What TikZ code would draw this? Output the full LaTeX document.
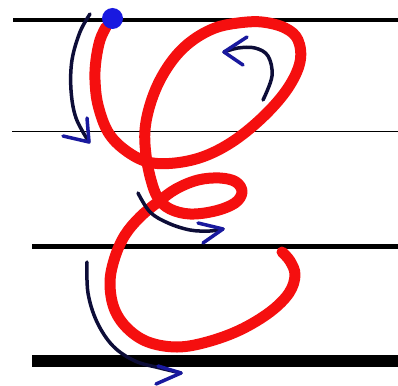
\documentclass[tikz,border=0pt]{standalone}
\begin{document}
\begin{tikzpicture}[x=1pt,y=-1pt]
\definecolor{redink}{rgb}{0.96,0.06,0.06}
\definecolor{navy}{rgb}{0.05,0.05,0.22}
\definecolor{headblue}{rgb}{0.1,0.1,0.62}
\definecolor{dotblue}{rgb}{0.1,0.1,0.88}
\tikzset{
  ruleline/.style={draw=black},
  letter/.style={draw=redink, line width=11pt, line cap=round, line join=round},
  shaft/.style={draw=navy, line width=3.5pt, line cap=round},
  head/.style={draw=headblue, line width=3.5pt, line cap=round, line join=round},
}
\useasboundingbox (0,0) rectangle (398,385);
\fill[white] (0,0) rectangle (398,385);
% ruled lines
\draw[ruleline, line width=4pt] (13,20.3) -- (398,20.3);
\draw[ruleline, line width=1.6pt] (12,131.3) -- (398,131.3);
\draw[ruleline, line width=4.5pt] (32,246.7) -- (398,246.7);
\draw[ruleline, line width=12pt] (32,361) -- (398,361);
% letter
\draw[letter] plot[smooth, tension=0.6] coordinates {
 (106,27) (100,40) (96,60) (95,80) (98,105) (108,132) (125,150) (148,162)
 (175,163) (205,156) (235,140) (265,115) (288,88) (300,62) (298,40) (285,28)
 (262,22) (238,23) (215,28) (193,40) (175,57) (160,80) (150,105) (145,130)
 (146,155) (151,180) (158,198) (170,209) (190,214) (215,211) (235,203) (242,192)
 (236,182) (220,178) (198,180) (176,189) (158,202) (140,217) (125,235) (115,257)
 (110,282) (114,308) (127,328) (148,342) (177,347) (207,342) (240,330) (270,312)
 (289,293) (295,275) (290,261) (282,252)};
% start dot
\node[circle, fill=dotblue, inner sep=0pt, minimum size=21pt] (start) at (112.5,18.5) {};
% arrow 1
\coordinate (a1tip) at (89,142);
\draw[shaft] plot[smooth, tension=0.6] coordinates {(90,14) (80,32) (72,60) (71,90) (76,118) (a1tip)};
\draw[head] (87,118) -- (a1tip) -- (63,136);
% arrow 2
\coordinate (a2tip) at (224,52);
\draw[shaft] plot[smooth, tension=0.6] coordinates {(263,100) (272,76) (268,56) (255,48) (238,48) (a2tip)};
\draw[head] (247,37) -- (a2tip) -- (243,65);
% arrow 3
\coordinate (a3tip) at (223,229);
\draw[shaft] plot[smooth, tension=0.6] coordinates {(138,193) (150,212) (168,223) (190,230) (210,231) (a3tip)};
\draw[head] (198,223) -- (a3tip) -- (203,243);
% arrow 4
\coordinate (a4tip) at (181,373);
\draw[shaft] plot[smooth, tension=0.6] coordinates {(87,262) (88,293) (97,322) (113,346) (135,361) (160,368) (a4tip)};
\draw[head] (158,366) -- (a4tip) -- (156,384);
\end{tikzpicture}
\end{document}
